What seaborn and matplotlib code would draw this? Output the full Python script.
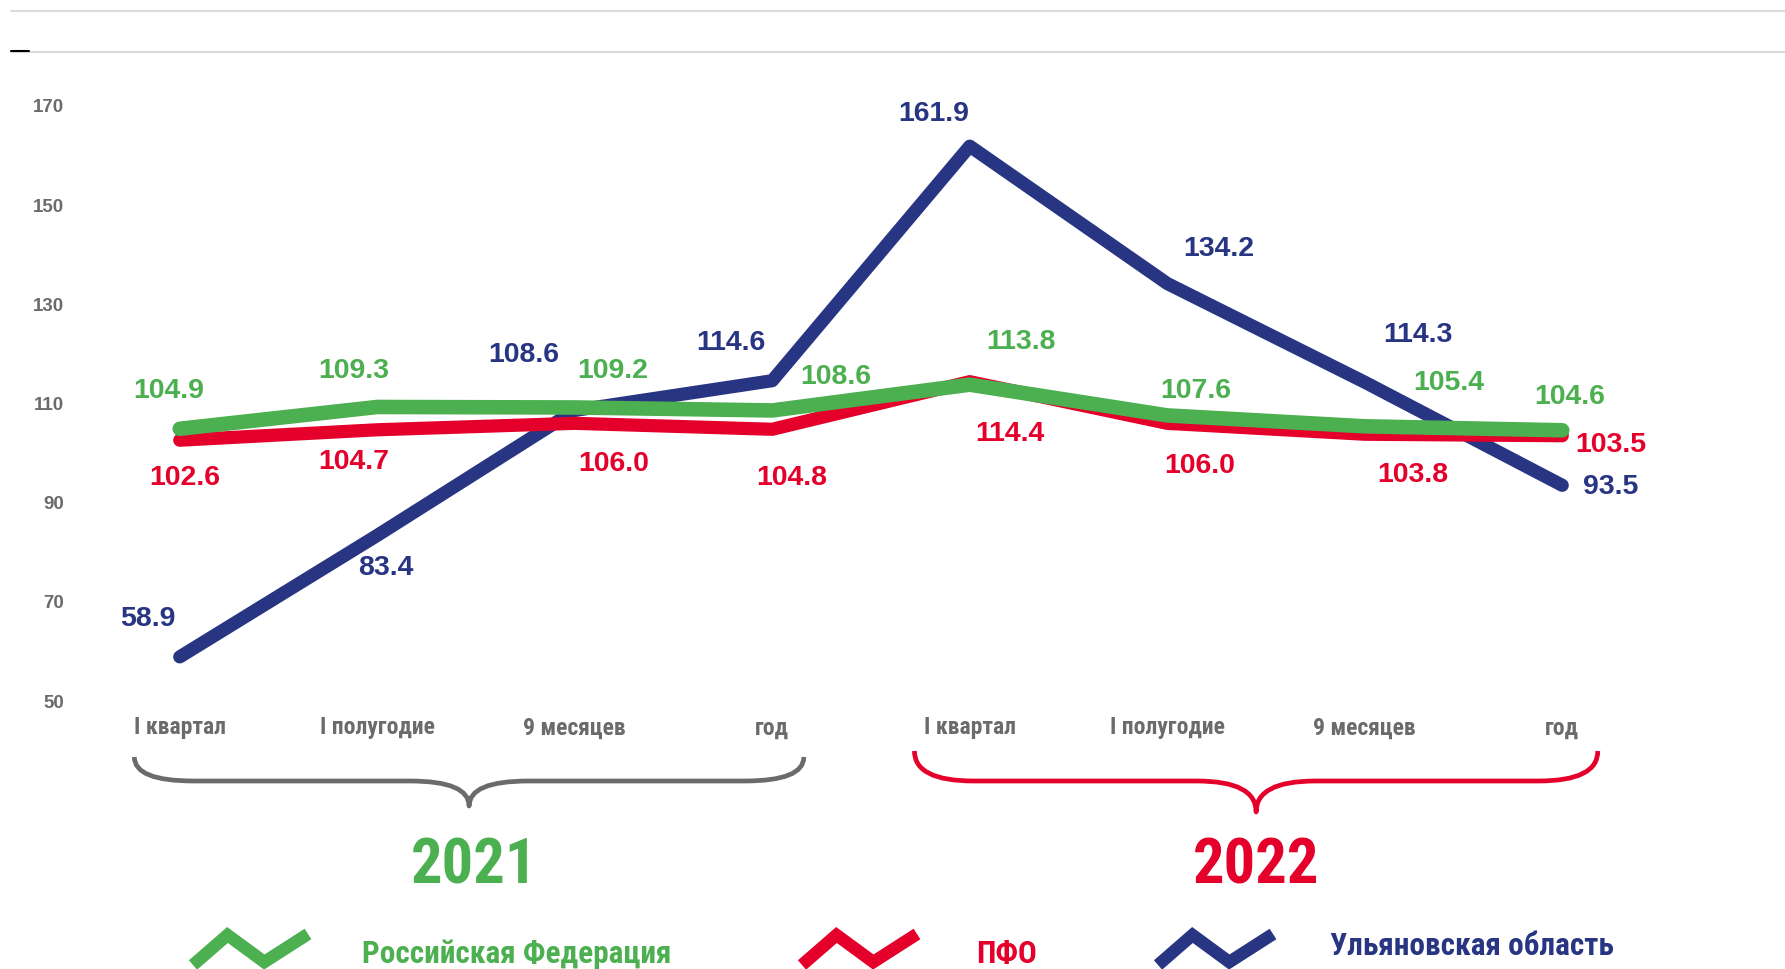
import numpy as np
import pandas as pd
import matplotlib.pyplot as plt
import seaborn as sns
from matplotlib.lines import Line2D
from matplotlib.path import Path
from matplotlib.patches import PathPatch
import matplotlib.transforms as mtransforms
from matplotlib import font_manager

# данные
periods = ['I квартал', 'I полугодие', '9 месяцев', 'год',
           'I квартал', 'I полугодие', '9 месяцев', 'год']
years = ['2021', '2022']
rf = [104.9, 109.3, 109.2, 108.6, 113.8, 107.6, 105.4, 104.6]
pfo = [102.6, 104.7, 106.0, 104.8, 114.4, 106.0, 103.8, 103.5]
uo = [58.9, 83.4, 108.6, 114.6, 161.9, 134.2, 114.3, 93.5]
series_names = ['Ульяновская область', 'ПФО', 'Российская Федерация']
yticks = [50, 70, 90, 110, 130, 150, 170]

GREEN = '#4caf50'
RED = '#e4002b'
BLUE = '#283583'
GRAY = '#6b6b6b'

# смещения подписей (пиксели)
off_rf = [(-11, 38), (-23, 36), (38, 36), (64, 33), (51, 43), (28, 24), (84, 43), (7, 33)]
off_pfo = [(5, -38), (-23, -32), (39, -41), (19, -49), (40, -52), (32, -43), (48, -41), (49, -9)]
off_uo = [(-32, 38), (9, -33), (-51, 55), (-41, 38), (-36, 32), (52, 35), (53, 47), (48, -2)]

df = pd.DataFrame({
    'x': list(range(8)) * 3,
    'value': uo + pfo + rf,
    'series': np.repeat(series_names, 8),
})

sns.set_theme(style='white')
plt.rcParams['font.family'] = ['Liberation Sans', 'DejaVu Sans']

# узкий шрифт, если есть
installed = {f.name for f in font_manager.fontManager.ttflist}
narrow = [f for f in ['Liberation Sans Narrow', 'Roboto Condensed', 'DejaVu Sans Condensed']
          if f in installed]
has_narrow = bool(narrow)
narrow = narrow + ['Liberation Sans', 'DejaVu Sans']
k = 1.0 if has_narrow else 0.82

W, H = 1785, 969
fig = plt.figure(figsize=(W / 100, H / 100), dpi=100)
ax = fig.add_axes([81 / W, 1 - 701 / H, 1580 / W, 595 / H])

colors = {'Ульяновская область': BLUE, 'ПФО': RED, 'Российская Федерация': GREEN}
widths = {'Ульяновская область': 9.5, 'ПФО': 9.5, 'Российская Федерация': 10.5}
for name in series_names:
    sns.lineplot(data=df[df['series'] == name], x='x', y='value', color=colors[name],
                 lw=widths[name], ax=ax, legend=False,
                 solid_capstyle='round', solid_joinstyle='round')

for vals, offs, col in [(uo, off_uo, BLUE), (pfo, off_pfo, RED), (rf, off_rf, GREEN)]:
    for i, (v, o) in enumerate(zip(vals, offs)):
        ax.annotate(f'{v:.1f}', (i, v), xytext=o, textcoords='offset pixels',
                    ha='center', va='center', color=col, fontsize=20.5, fontweight='bold')

ax.set_xlim(-0.5, 7.5)
ax.set_ylim(50, 170)
ax.set_yticks(yticks)
ax.set_yticklabels([str(t) for t in yticks], fontsize=13.5, fontweight='bold', color=GRAY)
ax.set_xticks(range(8))
ax.set_xticklabels(periods, fontsize=17 * k, fontweight='bold', color=GRAY,
                   family=narrow, fontstretch='condensed')
ax.tick_params(axis='y', length=0, pad=12)
ax.tick_params(axis='x', length=0, pad=11)
ax.set_xlabel('')
ax.set_ylabel('')
for s in ax.spines.values():
    s.set_visible(False)

# фигурные скобки под годами
trans = mtransforms.blended_transform_factory(ax.transData, fig.transFigure)


def brace(x0, x1, ytop, ymid, ytip, color):
    xm = (x0 + x1) / 2
    r = 0.3
    fy = lambda y: 1 - y / H
    verts = [(x0, fy(ytop)), (x0, fy(ymid)), (x0 + r, fy(ymid)),
             (xm - r, fy(ymid)), (xm, fy(ymid)), (xm, fy(ytip)),
             (xm, fy(ymid)), (xm + r, fy(ymid)),
             (x1 - r, fy(ymid)), (x1, fy(ymid)), (x1, fy(ytop))]
    codes = [Path.MOVETO, Path.CURVE3, Path.CURVE3,
             Path.LINETO, Path.CURVE3, Path.CURVE3,
             Path.CURVE3, Path.CURVE3,
             Path.LINETO, Path.CURVE3, Path.CURVE3]
    fig.add_artist(PathPatch(Path(verts, codes), fill=False, ec=color, lw=3.4,
                             transform=trans, capstyle='butt', joinstyle='round'))


brace(-0.23, 3.16, 757, 781, 806, GRAY)
brace(3.72, 7.18, 751, 781, 812, RED)

fig.text(474 / W, 1 - 866 / H, years[0], ha='center', va='center', color=GREEN,
         fontsize=45 * k, fontweight='bold', family=narrow, fontstretch='condensed')
fig.text(1256 / W, 1 - 866 / H, years[1], ha='center', va='center', color=RED,
         fontsize=45 * k, fontweight='bold', family=narrow, fontstretch='condensed')


# легенда
def zigzag(x0, col):
    xs = np.array([0, 0.3, 0.62, 1.0]) * 115 + x0
    ys = np.array([965, 935, 962, 934])
    fig.add_artist(Line2D(xs / W, 1 - ys / H, color=col, lw=9,
                          solid_capstyle='butt', solid_joinstyle='miter'))


zigzag(193, GREEN)
zigzag(802, RED)
zigzag(1158, BLUE)
lfs = 22.5 * k
fig.text(362 / W, 1 - 954 / H, 'Российская Федерация', ha='left', va='center',
         color=GREEN, fontsize=lfs, fontweight='bold', family=narrow, fontstretch='condensed')
fig.text(976 / W, 1 - 954 / H, 'ПФО', ha='left', va='center',
         color=RED, fontsize=lfs, fontweight='bold', family=narrow, fontstretch='condensed')
fig.text(1330 / W, 1 - 946 / H, 'Ульяновская область', ha='left', va='center',
         color=BLUE, fontsize=lfs, fontweight='bold', family=narrow, fontstretch='condensed')

# верхняя полоса
for yy in [11, 52]:
    fig.add_artist(Line2D([11 / W, 1], [1 - yy / H] * 2, color='#dcdcdc', lw=1.5))
fig.add_artist(Line2D([11 / W, 29 / W], [1 - 51 / H] * 2, color='black', lw=1.5))

fig.savefig('out.png', dpi=100)
